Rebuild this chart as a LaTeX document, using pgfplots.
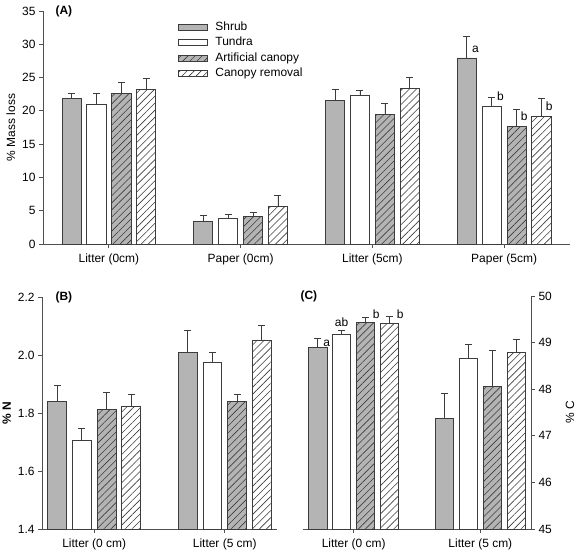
\documentclass[border=0pt]{standalone}
\usepackage{fontspec}
\setmainfont{Liberation Sans}
\usepackage{pgfplots}
\pgfplotsset{compat=1.18}
\usetikzlibrary{patterns.meta}
\definecolor{barfill}{HTML}{B4B4B4}
\definecolor{edge}{HTML}{3C3C3C}
\definecolor{axisc}{HTML}{505050}
\newcommand{\fs}{\fontsize{12}{14}\selectfont}
\pgfplotsset{
  common/.style={
    scale only axis, anchor=south west,
    axis x line*=bottom, axis y line*=left,
    tick align=outside, major tick length=4bp,
    axis line style={axisc, line width=0.8bp},
    every tick/.style={axisc, line width=0.8bp},
    ybar, bar width=0.145,
    font=\fs, tick label style={font=\fs}, label style={font=\fs},
    xticklabel style={yshift=-2bp},
    /pgf/number format/assume math mode=true,
    clip mode=individual,
    legend cell align=left,
  },
  ebar/.style={error bars/.cd, y dir=plus, y explicit,
    error bar style={edge, line width=0.7bp},
    error mark options={edge, line width=0.7bp, mark size=3.5bp, rotate=90}},
  limg/.style={legend image code/.code={\draw[##1,/tikz/.cd,yshift=0bp] (0bp,-3bp) rectangle (29bp,3bp);}},
  shrub/.style={fill=barfill, draw=edge, line width=0.8bp, bar shift=-0.283, limg},
  tundra/.style={fill=white, draw=edge, line width=0.8bp, bar shift=-0.095, limg},
  artif/.style={fill=barfill, draw=edge, line width=0.8bp, bar shift=0.095, limg,
    postaction={pattern={Lines[angle=45,distance=5bp,line width=0.6bp]}, pattern color=edge}},
  canopy/.style={fill=white, draw=edge, line width=0.8bp, bar shift=0.283, limg,
    postaction={pattern={Lines[angle=45,distance=5bp,line width=0.6bp]}, pattern color=edge}},
}
\begin{document}
\begin{tikzpicture}
\path[use as bounding box] (0,0) rectangle (579bp,-555bp);
% Panel A
\begin{axis}[common,
  at={(43bp,-244bp)}, width=527bp, height=233bp,
  xmin=-0.5, xmax=3.5, ymin=0, ymax=35,
  xtick={0,1,2,3}, xticklabels={Litter (0cm),Paper (0cm),Litter (5cm),Paper (5cm)},
  ytick={0,5,10,15,20,25,30,35},
  ylabel={\% Mass loss},
  legend style={at={(0.256,0.963)}, anchor=north west, draw=none, fill=none,
    font=\fs, row sep=1bp, column sep=6bp, inner sep=0pt,
    nodes={inner sep=1.5bp, text height=9bp, text depth=2.5bp}},
]
\addplot[shrub, ebar] coordinates {(0,21.8) +- (0,0.8) (1,3.4) +- (0,0.9) (2,21.6) +- (0,1.7) (3,27.95) +- (0,3.25)};
\addplot[tundra, ebar] coordinates {(0,21.0) +- (0,1.6) (1,3.85) +- (0,0.55) (2,22.3) +- (0,0.75) (3,20.7) +- (0,1.35)};
\addplot[artif, ebar] coordinates {(0,22.65) +- (0,1.65) (1,4.15) +- (0,0.65) (2,19.5) +- (0,1.6) (3,17.65) +- (0,2.6)};
\addplot[canopy, ebar] coordinates {(0,23.15) +- (0,1.75) (1,5.6) +- (0,1.7) (2,23.4) +- (0,1.7) (3,19.1) +- (0,2.75)};
\legend{Shrub, Tundra, Artificial canopy, Canopy removal}
\node[anchor=west, font=\fs\bfseries] at (rel axis cs:0,1) [xshift=9bp] {(A)};
\node[anchor=base west, inner sep=0pt] at (axis cs:2.756,28.8) {a};
\node[anchor=base west, inner sep=0pt] at (axis cs:2.946,21.6) {b};
\node[anchor=base west, inner sep=0pt] at (axis cs:3.126,18.5) {b};
\node[anchor=base west, inner sep=0pt] at (axis cs:3.316,20.0) {b};
\end{axis}
% Panel B
\begin{axis}[common,
  at={(42bp,-529bp)}, width=235bp, height=232bp,
  xmin=-0.4, xmax=1.4, ymin=1.4, ymax=2.2,
  xtick={0,1}, xticklabels={Litter (0 cm),Litter (5 cm)},
  ytick={1.4,1.6,1.8,2.0,2.2},
  yticklabel style={/pgf/number format/.cd, fixed, fixed zerofill, precision=1},
  ylabel={\textbf{\% N}},
]
\addplot[shrub, ebar] coordinates {(0,1.840) +- (0,0.057) (1,2.008) +- (0,0.076)};
\addplot[tundra, ebar] coordinates {(0,1.706) +- (0,0.040) (1,1.975) +- (0,0.034)};
\addplot[artif, ebar] coordinates {(0,1.813) +- (0,0.057) (1,1.839) +- (0,0.025)};
\addplot[canopy, ebar] coordinates {(0,1.823) +- (0,0.041) (1,2.052) +- (0,0.049)};
\node[anchor=west, font=\fs\bfseries] at (rel axis cs:0,1) [xshift=10bp] {(B)};
\end{axis}
% Panel C
\begin{axis}[common,
  axis y line*=right,
  at={(303bp,-529bp)}, width=228bp, height=233bp,
  xmin=-0.4, xmax=1.4, ymin=45, ymax=50,
  xtick={0,1}, xticklabels={Litter (0 cm),Litter (5 cm)},
  ytick={45,46,47,48,49,50},
  ylabel={\% C},
  ylabel style={at={(rel axis cs:1.171,0.5)}, anchor=center, rotate=0},
]
\addplot[shrub, ebar] coordinates {(0,48.90) +- (0,0.19) (1,47.38) +- (0,0.53)};
\addplot[tundra, ebar] coordinates {(0,49.18) +- (0,0.08) (1,48.66) +- (0,0.31)};
\addplot[artif, ebar] coordinates {(0,49.44) +- (0,0.10) (1,48.06) +- (0,0.78)};
\addplot[canopy, ebar] coordinates {(0,49.42) +- (0,0.15) (1,48.78) +- (0,0.30)};
\node[anchor=west, font=\fs\bfseries] at (rel axis cs:0,1) [xshift=-6bp] {(C)};
\node[anchor=base west, inner sep=0pt] at (axis cs:-0.24,48.92) {a};
\node[anchor=base, inner sep=0pt] at (axis cs:-0.096,49.34) {ab};
\node[anchor=base west, inner sep=0pt] at (axis cs:0.150,49.52) {b};
\node[anchor=base west, inner sep=0pt] at (axis cs:0.340,49.52) {b};
\end{axis}
\end{tikzpicture}
\end{document}
